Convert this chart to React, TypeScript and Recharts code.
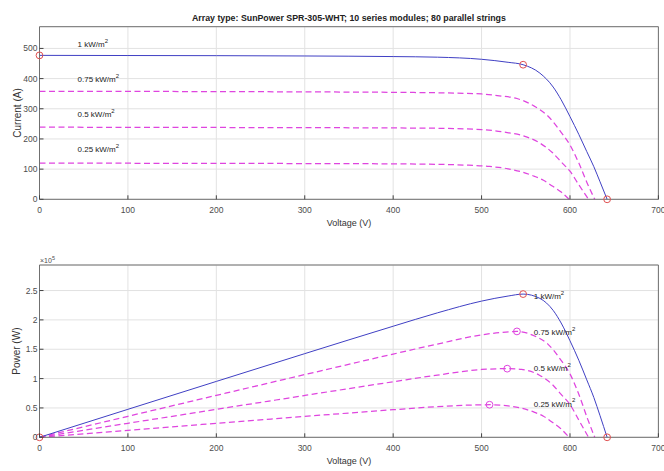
import React from 'react';
import { ComposedChart, Line, Scatter, XAxis, YAxis, CartesianGrid, Label } from 'recharts';

// ---------- data ----------
const VOLT_1 = [0, 100, 200, 300, 400, 450, 500, 530, 547, 566, 581, 590, 600, 610, 619, 627, 634, 642];
const CURR_1 = [477, 476.5, 476, 475, 473, 471, 464, 454, 446, 418, 372, 330, 274, 215, 158, 108, 58, 0];
const POW_1 = [0, 47650, 95200, 142500, 189200, 211950, 232000, 240620, 243960, 236590, 216130, 194700, 164400, 131150, 97800, 67720, 36770, 0];

const VOLT_075 = [0, 100, 200, 300, 400, 450, 500, 520, 540, 560, 575, 590, 600, 610, 620, 628];
const CURR_075 = [358, 357.5, 357, 356, 354.5, 353, 349, 343, 334, 308, 276, 222, 180, 120, 50, 0];
const POW_075 = [0, 35750, 71400, 106800, 141800, 158850, 174500, 178360, 180360, 172480, 158700, 130980, 108000, 73200, 31000, 0];

const VOLT_05 = [0, 100, 200, 300, 400, 450, 500, 529, 545, 565, 580, 590, 600, 610, 621];
const CURR_05 = [239, 238.5, 238, 237.5, 236.5, 235.5, 231, 221, 212, 188, 155, 124, 93, 48, 0];
const POW_05 = [0, 23850, 47600, 71250, 94600, 105975, 115500, 116909, 115540, 106220, 89900, 73160, 55800, 29280, 0];

const VOLT_025 = [0, 100, 200, 300, 400, 450, 480, 509, 530, 545, 560, 570, 580, 590, 599];
const CURR_025 = [120, 119.5, 119, 118.5, 117.5, 116, 113.5, 109, 101, 91, 76, 63, 44, 24, 0];
const POW_025 = [0, 11950, 23800, 35550, 47000, 52200, 54480, 55481, 53530, 49595, 42560, 35910, 25520, 14160, 0];

const X_TICKS = [0, 100, 200, 300, 400, 500, 600, 700];
const I_TICKS = [0, 100, 200, 300, 400, 500];
const P_TICKS = [0, 50000, 100000, 150000, 200000, 250000];

const IRR_LABELS = ['1', '0.75', '0.5', '0.25'];
const TOP_LABEL_V = [43, 43, 43, 43];
const TOP_LABEL_I = [512, 396, 280, 164];
const BOT_LABEL_V = [559, 559, 559, 559];
const BOT_LABEL_P = [239500, 178000, 117000, 56000];

const MARK_TOP_V = [0, 547, 642];
const MARK_TOP_I = [477, 446, 0];
const MARK_BOT_RED_V = [0, 547, 642];
const MARK_BOT_RED_P = [0, 243960, 0];
const MARK_BOT_MAG_V = [540, 529, 509];
const MARK_BOT_MAG_P = [180360, 116909, 55481];

const TITLE = 'Array type: SunPower SPR-305-WHT; 10 series modules; 80 parallel strings';

// ---------- build tables ----------
const zipIV = (v: number[], i: number[]) => v.map((x, k) => ({ v: x, i: i[k] }));
const zipPV = (v: number[], p: number[]) => v.map((x, k) => ({ v: x, p: p[k] }));

const iv1 = zipIV(VOLT_1, CURR_1);
const iv075 = zipIV(VOLT_075, CURR_075);
const iv05 = zipIV(VOLT_05, CURR_05);
const iv025 = zipIV(VOLT_025, CURR_025);
const pv1 = zipPV(VOLT_1, POW_1);
const pv075 = zipPV(VOLT_075, POW_075);
const pv05 = zipPV(VOLT_05, POW_05);
const pv025 = zipPV(VOLT_025, POW_025);

const topLabels = IRR_LABELS.map((t, k) => ({ v: TOP_LABEL_V[k], i: TOP_LABEL_I[k], text: t }));
const botLabels = IRR_LABELS.map((t, k) => ({ v: BOT_LABEL_V[k], p: BOT_LABEL_P[k], text: t }));
const topMarks = zipIV(MARK_TOP_V, MARK_TOP_I);
const botRed = zipPV(MARK_BOT_RED_V, MARK_BOT_RED_P);
const botMag = zipPV(MARK_BOT_MAG_V, MARK_BOT_MAG_P);

// ---------- styles ----------
const FONT = "'Liberation Sans', Arial, Helvetica, sans-serif";
const BLUE = '#4040c4';
const MAG = '#df45df';
const RED = '#e05050';
const FRAME = '#707070';
const TICKC = '#444';
const GRID = '#e2e2e2';
const TICK_TXT = '#4d4d4d';
const DASH = '6 3.5';
const DASH_W = 1.25;

const XTickBottom = (props: any) => {
  const { x, y, payload } = props;
  return (
    <g>
      <line x1={x} x2={x} y1={y} y2={y - 4} stroke={TICKC} strokeWidth={1} />
      <text x={x} y={y + 11} textAnchor="middle" dominantBaseline="central" fontSize={8.5} fill={TICK_TXT} fontFamily={FONT}>
        {payload.value}
      </text>
    </g>
  );
};
const XTickTop = (props: any) => {
  const { x, y } = props;
  return <line x1={x} x2={x} y1={y} y2={y + 4} stroke={TICKC} strokeWidth={1} />;
};
const makeYTickLeft = (fmt: (v: number) => string) => (props: any) => {
  const { x, y, payload } = props;
  return (
    <g>
      <line x1={x} x2={x + 4} y1={y} y2={y} stroke={TICKC} strokeWidth={1} />
      <text x={x - 2} y={y} textAnchor="end" dominantBaseline="central" fontSize={8.5} fill={TICK_TXT} fontFamily={FONT}>
        {fmt(payload.value)}
      </text>
    </g>
  );
};
const YTickRight = (props: any) => {
  const { x, y } = props;
  return <line x1={x} x2={x - 4} y1={y} y2={y} stroke={TICKC} strokeWidth={1} />;
};

const YTickCurrent = makeYTickLeft((v) => String(v));
const YTickPower = makeYTickLeft((v) => String(v / 100000));

const Ring = (color: string) => (props: any) => {
  const { cx, cy } = props;
  return <circle cx={cx} cy={cy} r={3.4} fill="none" stroke={color} strokeWidth={1} />;
};

const IrrText = (props: any) => {
  const { cx, cy, payload } = props;
  return (
    <text x={cx} y={cy} dominantBaseline="central" fontSize={8} fill="#222" fontFamily={FONT}>
      {payload.text + ' kW/m'}
      <tspan dy={-4} fontSize={6}>2</tspan>
    </text>
  );
};

const xLabel = (props: any) => {
  const vb = props.viewBox;
  return (
    <text x={vb.x + vb.width / 2} y={vb.y + 24} textAnchor="middle" dominantBaseline="central" fontSize={9} fill="#333" fontFamily={FONT}>
      Voltage (V)
    </text>
  );
};
const yLabel = (text: string) => (props: any) => {
  const vb = props.viewBox;
  const cy = vb.y + vb.height / 2;
  return (
    <text x={17} y={cy} transform={`rotate(-90 17 ${cy})`} textAnchor="middle" dominantBaseline="central" fontSize={10} fill="#333" fontFamily={FONT}>
      {text}
    </text>
  );
};
const titleLabel = (props: any) => {
  const vb = props.viewBox;
  return (
    <text x={vb.x + vb.width / 2} y={vb.y + vb.height - 8.5} textAnchor="middle" dominantBaseline="central" fontSize={8.8} fontWeight="bold" fill="#222" fontFamily={FONT}>
      {TITLE}
    </text>
  );
};
const expLabel = (props: any) => {
  const vb = props.viewBox;
  return (
    <text x={vb.x + 0.5} y={vb.y + vb.height - 4.5} dominantBaseline="central" fontSize={7} fill={TICK_TXT} fontFamily={FONT}>
      ×10
      <tspan dy={-3} fontSize={5.5}>5</tspan>
    </text>
  );
};

const W = 664;
// plot area: x 39.5..658.4 ; top plot y 26.7..199.3 ; bottom plot y 265..437.3
const AX = 1; // axis thickness used for layout
const MARGIN_L = 39.5 - AX;
const MARGIN_R = 5.6 - AX;

export default function App() {
  return (
    <div style={{ position: 'absolute', left: 0, top: 0, width: W, height: 471, background: '#fff' }}>
      <ComposedChart width={W} height={235} margin={{ top: 26.7 - AX, right: MARGIN_R, bottom: 35.7 - AX, left: MARGIN_L }}>
        <CartesianGrid xAxisId="x" yAxisId="y" stroke={GRID} strokeWidth={1} />
        <XAxis xAxisId="x" type="number" dataKey="v" domain={[0, 700]} ticks={X_TICKS} height={AX} tickSize={0} tickMargin={0}
          tickLine={false} axisLine={{ stroke: FRAME }} tick={XTickBottom} interval={0}>
          <Label content={xLabel} />
        </XAxis>
        <XAxis xAxisId="xt" orientation="top" type="number" domain={[0, 700]} ticks={X_TICKS} height={AX} tickSize={0} tickMargin={0}
          tickLine={false} axisLine={{ stroke: FRAME }} tick={XTickTop} interval={0}>
          <Label content={titleLabel} />
        </XAxis>
        <YAxis yAxisId="y" type="number" domain={[0, 572]} ticks={I_TICKS} width={AX} tickSize={0} tickMargin={0}
          tickLine={false} axisLine={{ stroke: FRAME }} tick={YTickCurrent} interval={0}>
          <Label content={yLabel('Current (A)')} />
        </YAxis>
        <YAxis yAxisId="yr" orientation="right" type="number" domain={[0, 572]} ticks={I_TICKS} width={AX} tickSize={0} tickMargin={0}
          tickLine={false} axisLine={{ stroke: FRAME }} tick={YTickRight} interval={0} />
        <Line xAxisId="x" yAxisId="y" data={iv025} dataKey="i" type="monotone" stroke={MAG} strokeWidth={DASH_W} strokeDasharray={DASH} dot={false} isAnimationActive={false} />
        <Line xAxisId="x" yAxisId="y" data={iv05} dataKey="i" type="monotone" stroke={MAG} strokeWidth={DASH_W} strokeDasharray={DASH} dot={false} isAnimationActive={false} />
        <Line xAxisId="x" yAxisId="y" data={iv075} dataKey="i" type="monotone" stroke={MAG} strokeWidth={DASH_W} strokeDasharray={DASH} dot={false} isAnimationActive={false} />
        <Line xAxisId="x" yAxisId="y" data={iv1} dataKey="i" type="monotone" stroke={BLUE} strokeWidth={1} dot={false} isAnimationActive={false} />
        <Scatter xAxisId="x" yAxisId="y" data={topMarks} dataKey="i" shape={Ring(RED)} isAnimationActive={false} />
        <Scatter xAxisId="x" yAxisId="y" data={topLabels} dataKey="i" shape={IrrText} isAnimationActive={false} />
      </ComposedChart>
      <ComposedChart width={W} height={236} margin={{ top: 30 - AX, right: MARGIN_R, bottom: 33.7 - AX, left: MARGIN_L }}>
        <CartesianGrid xAxisId="x" yAxisId="y" stroke={GRID} strokeWidth={1} />
        <XAxis xAxisId="x" type="number" dataKey="v" domain={[0, 700]} ticks={X_TICKS} height={AX} tickSize={0} tickMargin={0}
          tickLine={false} axisLine={{ stroke: FRAME }} tick={XTickBottom} interval={0}>
          <Label content={xLabel} />
        </XAxis>
        <XAxis xAxisId="xt" orientation="top" type="number" domain={[0, 700]} ticks={X_TICKS} height={AX} tickSize={0} tickMargin={0}
          tickLine={false} axisLine={{ stroke: FRAME }} tick={XTickTop} interval={0}>
          <Label content={expLabel} />
        </XAxis>
        <YAxis yAxisId="y" type="number" domain={[0, 293500]} ticks={P_TICKS} width={AX} tickSize={0} tickMargin={0}
          tickLine={false} axisLine={{ stroke: FRAME }} tick={YTickPower} interval={0}>
          <Label content={yLabel('Power (W)')} />
        </YAxis>
        <YAxis yAxisId="yr" orientation="right" type="number" domain={[0, 293500]} ticks={P_TICKS} width={AX} tickSize={0} tickMargin={0}
          tickLine={false} axisLine={{ stroke: FRAME }} tick={YTickRight} interval={0} />
        <Line xAxisId="x" yAxisId="y" data={pv025} dataKey="p" type="monotone" stroke={MAG} strokeWidth={DASH_W} strokeDasharray={DASH} dot={false} isAnimationActive={false} />
        <Line xAxisId="x" yAxisId="y" data={pv05} dataKey="p" type="monotone" stroke={MAG} strokeWidth={DASH_W} strokeDasharray={DASH} dot={false} isAnimationActive={false} />
        <Line xAxisId="x" yAxisId="y" data={pv075} dataKey="p" type="monotone" stroke={MAG} strokeWidth={DASH_W} strokeDasharray={DASH} dot={false} isAnimationActive={false} />
        <Line xAxisId="x" yAxisId="y" data={pv1} dataKey="p" type="monotone" stroke={BLUE} strokeWidth={1} dot={false} isAnimationActive={false} />
        <Scatter xAxisId="x" yAxisId="y" data={botMag} dataKey="p" shape={Ring(MAG)} isAnimationActive={false} />
        <Scatter xAxisId="x" yAxisId="y" data={botRed} dataKey="p" shape={Ring(RED)} isAnimationActive={false} />
        <Scatter xAxisId="x" yAxisId="y" data={botLabels} dataKey="p" shape={IrrText} isAnimationActive={false} />
      </ComposedChart>
    </div>
  );
}
